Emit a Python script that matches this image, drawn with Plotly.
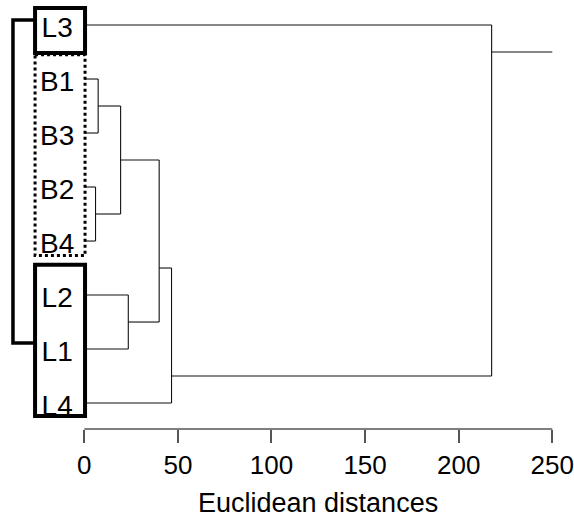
import plotly.graph_objects as go

# ---- data ----
leaves = ["L3", "B1", "B3", "B2", "B4", "L2", "L1", "L4"]
merge_left = ["B1", "B2", "n1", "L2", "n3", "n5", "L3"]
merge_right = ["B3", "B4", "n2", "L1", "n4", "L4", "n6"]
merge_height = [7.4, 6.0, 19.4, 23.5, 40.0, 46.6, 217.6]
root_end = 250
tick_vals = [0, 50, 100, 150, 200, 250]
axis_title = "Euclidean distances"

# ---- build dendrogram geometry (STATISTICA-style connectors) ----
nodes = {}
for i, name in enumerate(leaves):
    nodes[name] = {"first": i, "last": i, "y": float(i), "h": 0.0}

xs, ys = [], []
for k, (a, b, h) in enumerate(zip(merge_left, merge_right, merge_height)):
    na, nb = nodes[a], nodes[b]
    y = na["last"] + 0.5
    xs += [na["h"], h, None, nb["h"], h, None, h, h, None]
    ys += [na["y"], na["y"], None, nb["y"], nb["y"], None, na["y"], nb["y"], None]
    nodes["n%d" % (k + 1)] = {"first": na["first"], "last": nb["last"], "y": y, "h": h}

top = nodes["n%d" % len(merge_height)]
xs += [top["h"], root_end]
ys += [top["y"], top["y"]]

FONT = "Liberation Sans, Arial, sans-serif"

fig = go.Figure()
fig.add_trace(go.Scatter(x=xs, y=ys, mode="lines",
                         line=dict(color="#111111", width=1.1),
                         hoverinfo="skip", showlegend=False))
fig.add_trace(go.Scatter(x=[-14.5] * len(leaves), y=[i + 0.09 for i in range(len(leaves))],
                         mode="text", text=leaves, textposition="middle center",
                         textfont=dict(family=FONT, size=28, color="black"),
                         hoverinfo="skip", showlegend=False))

shapes = []
shapes.append(dict(type="line", xref="x", yref="paper", x0=0, x1=root_end, y0=0, y1=0,
                   line=dict(color="#555555", width=1.6)))
bx0, bx1 = -26.3, 0.4
shapes.append(dict(type="rect", xref="x", yref="y", x0=bx0, x1=bx1, y0=-0.315, y1=0.52,
                   line=dict(color="black", width=4)))
shapes.append(dict(type="rect", xref="x", yref="y", x0=bx0, x1=bx1, y0=0.55, y1=4.27,
                   line=dict(color="black", width=3, dash="dot")))
shapes.append(dict(type="rect", xref="x", yref="y", x0=bx0, x1=bx1, y0=4.44, y1=7.24,
                   line=dict(color="black", width=4)))
brx = -38.1
shapes.append(dict(type="path", xref="x", yref="y",
                   path=f"M {bx0},-0.093 L {brx},-0.093 L {brx},5.89 L {bx0},5.89",
                   line=dict(color="black", width=3.5)))

fig.update_layout(
    width=574, height=517,
    margin=dict(l=0, r=0, t=0, b=88),
    paper_bgcolor="white", plot_bgcolor="white",
    shapes=shapes,
    xaxis=dict(range=[-45.03, 261.6], showgrid=False, zeroline=False, showline=False,
               tickvals=tick_vals, ticks="outside", ticklen=13, tickwidth=1.5,
               tickcolor="#555555",
               tickfont=dict(family=FONT, size=26, color="black")),
    yaxis=dict(range=[7.481, -0.463], showgrid=False, zeroline=False, showline=False,
               showticklabels=False, ticks=""),
    annotations=[dict(text=axis_title, xref="x", yref="paper", x=125, y=0,
                      yanchor="middle", yshift=-74, showarrow=False,
                      font=dict(family=FONT, size=27, color="black"))],
)

fig.write_html("out.html", config={"displayModeBar": False},
               post_script="document.body.style.margin='0';")
